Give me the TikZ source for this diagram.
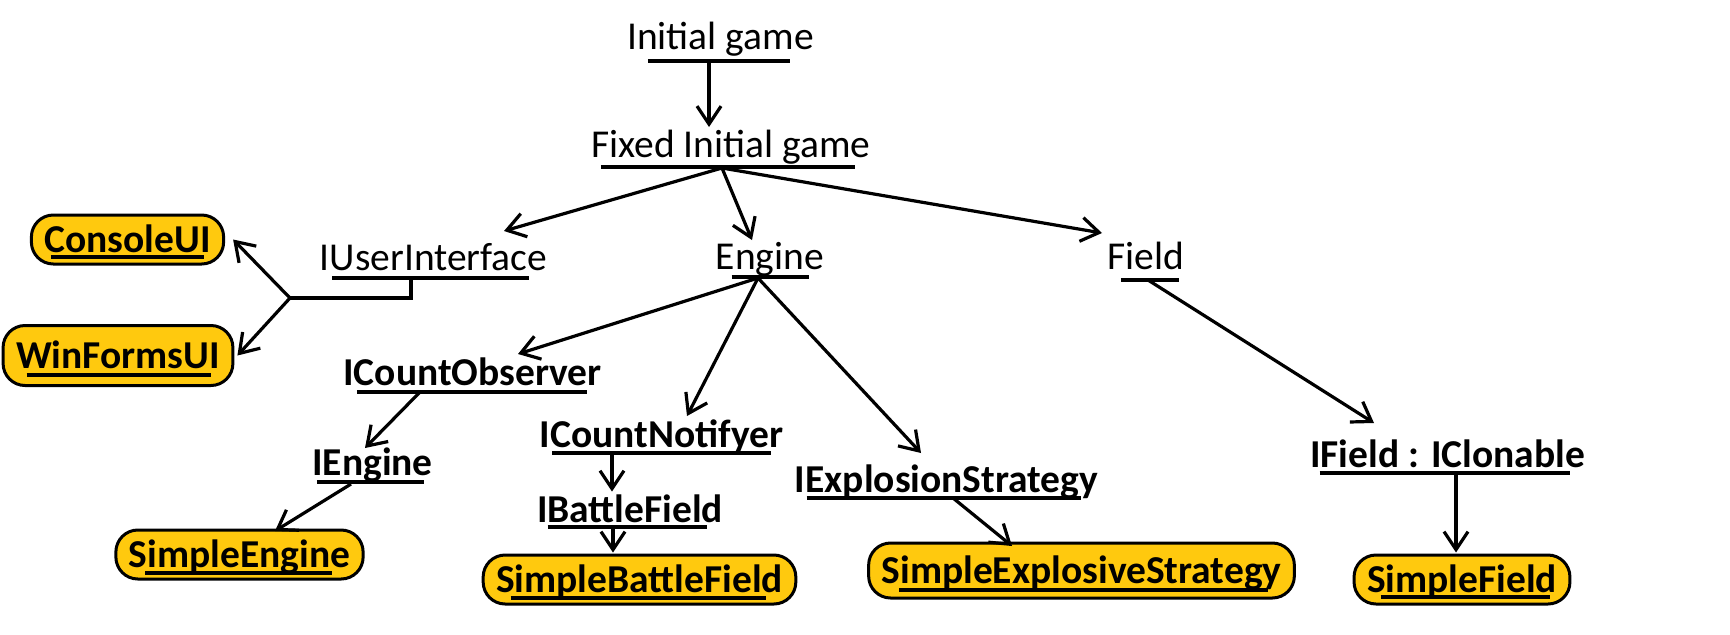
\documentclass[tikz,border=0pt]{standalone}
\usepackage{fontspec}
\setmainfont{Carlito}
\usetikzlibrary{arrows.meta,calc}

\definecolor{boxgold}{RGB}{255,201,14}

% underline under a label: node, cut left, cut right, drop below base
\newcommand{\ulin}[4]{\draw[uline] ($(#1.base west)+(#2,#4)$) -- ($(#1.base east)+(-#3,#4)$);}

\tikzset{
  txt/.style={inner sep=0pt, anchor=base, text height=12.5pt, text depth=0pt,
    font=\fontsize{19.75}{24}\selectfont},
  iface/.style={txt, font=\fontsize{19.75}{24}\selectfont\bfseries},
  impl/.style={iface, draw, line width=1.5pt, fill=boxgold, rounded corners=11pt,
    inner xsep=6.5pt, inner ysep=6pt},
  uline/.style={line width=1.8pt},
  link/.style={line width=1.6pt},
  arr/.style={link, -{Straight Barb[length=9pt,width=12pt,line width=1.6pt]}},
}

\begin{document}
\begin{tikzpicture}[x=0.5pt, y=-0.5pt]

    % ==========================================
    % 1. FRAME (pixel grid of the sketch)
    % ==========================================
    \useasboundingbox (0,0) rectangle (1730,634);

    % ==========================================
    % 2. LABELS
    % ==========================================
    % Top chain
    \node[txt] (init)   at (720.5,49)  {Initial game};
    \node[txt] (fixed)  at (731,157)   {Fixed Initial game};

    % Second row
    \node[txt] (ui)     at (433.5,270) {IUserInterface};
    \node[txt] (engine) at (770,269)   {Engine};
    \node[txt] (field)  at (1145.5,269) {Field};

    % UI implementations
    \node[impl] (console)  at (127.5,252) {ConsoleUI};
    \node[impl, minimum height=30pt] (winforms) at (118,368) {WinFormsUI};

    % Engine branch
    \node[iface] (cobs)    at (472.5,385) {ICountObserver};
    \node[iface] (iengine) at (372.5,475) {IEngine};
    \node[impl]  (sengine) at (239.5,567) {SimpleEngine};

    \node[iface] (cnot)    at (661.5,447) {ICountNotifyer};
    \node[iface] (battle)  at (630,522)   {IBattleField};
    \node[impl]  (sbattle) at (639.5,592) {SimpleBattleField};

    \node[iface] (expl)    at (946.5,492) {IExplosionStrategy};
    \node[impl, minimum height=27.5pt] (sexpl) at (1081.5,583) {SimpleExplosiveStrategy};

    % Field branch
    \node[iface] (ifield)  at (1447.5,467) {IField : IClonable};
    \node[impl]  (sfield)  at (1462,592)  {SimpleField};

    % ==========================================
    % 3. UNDERLINES
    % ==========================================
    \ulin{init}{21}{24}{12}
    \ulin{fixed}{10}{16}{10}
    \ulin{ui}{13}{19}{8}
    \ulin{engine}{16}{15}{8}
    \ulin{field}{14}{5}{11}
    \ulin{console}{21}{21}{5}
    \ulin{winforms}{25}{23}{7}
    \ulin{cobs}{14}{15}{7}
    \ulin{iengine}{5}{9}{7}
    \ulin{sengine}{31}{33}{6}
    \ulin{cnot}{13}{13}{6}
    \ulin{battle}{11}{16}{5}
    \ulin{sbattle}{29}{31}{6}
    \ulin{expl}{12}{17}{6}
    \ulin{sexpl}{32}{28}{7}
    \ulin{ifield}{10}{15}{6}
    \ulin{sfield}{28}{21}{5}

    % ==========================================
    % 4. CONNECTORS
    % ==========================================
    % Start points on the underlines
    \coordinate (init-u)    at ($(init.base)+(-11.5,12)$);
    \coordinate (fixed-u)   at ($(fixed.base)+(-9,11)$);
    \coordinate (ui-u)      at ($(ui.base)+(-22.5,9)$);
    \coordinate (fork)      at ($(ui-u)+(-121,19)$);
    \coordinate (engine-u)  at ($(engine.base)+(-12,9)$);
    \coordinate (field-u)   at ($(field.base)+(2.5,11)$);
    \coordinate (cobs-u)    at ($(cobs.base)+(-52.5,7)$);
    \coordinate (iengine-u) at ($(iengine.base)+(-21.5,9)$);
    \coordinate (cnot-u)    at ($(cnot.base)+(-49.5,6)$);
    \coordinate (battle-u)  at ($(battle.base)+(-17,5)$);
    \coordinate (expl-u)    at ($(expl.base)+(6.5,6)$);
    \coordinate (ifield-u)  at ($(ifield.base)+(8.5,6)$);

    \draw[arr] (init-u) -- ($(fixed.base)+(-22,-30)$);

    \draw[arr] (fixed-u) -- ($(ui.base)+(70.5,-39)$);
    \draw[arr] (fixed-u) -- ($(engine.base)+(-18,-29)$);
    \draw[arr] (fixed-u) -- ($(field.base)+(-43.5,-36)$);

    \draw[link] (ui-u) |- (fork);
    \draw[arr] (fork) -- ($(console.east)+(8,0)$);
    \draw[arr] (fork) -- ($(winforms.east)+(3,0)$);

    \draw[arr] (engine-u) -- ($(cobs.base)+(45.5,-31)$);
    \draw[arr] (engine-u) -- ($(cnot.base)+(25.5,-31)$);
    \draw[arr] (engine-u) -- ($(expl.base)+(-25.5,-39)$);

    \draw[arr] (cobs-u) -- ($(iengine.base)+(-7.5,-27)$);
    \draw[arr] (iengine-u) -- ($(sengine.base)+(35.5,-36)$);

    \draw[arr] (cnot-u) -- ($(cnot-u |- battle.north)+(0,-5)$);
    \draw[arr] (battle-u) -- ($(battle-u |- sbattle.north)+(0,-1)$);

    \draw[arr] (expl-u) -- ($(sexpl.base)+(-69.5,-37)$);

    \draw[arr] (field-u) -- ($(ifield.base)+(-73.5,-44)$);
    \draw[arr] (ifield-u) -- ($(ifield-u |- sfield.north)+(0,-1)$);

\end{tikzpicture}
\end{document}
